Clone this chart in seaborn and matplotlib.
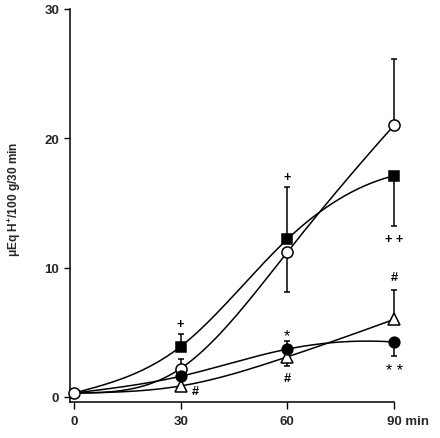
import numpy as np
import pandas as pd
import matplotlib
matplotlib.use("Agg")
import matplotlib.pyplot as plt
import matplotlib.transforms as mtransforms
import seaborn as sns

# ---- data ----
time = [0, 30, 60, 90]
open_circle = [0.3, 2.2, 11.2, 21.0]
open_circle_up = [0, 0.7, 0, 5.1]
open_circle_dn = [0, 0, 3.1, 0]
square = [0.3, 3.9, 12.2, 17.1]
square_up = [0, 1.0, 4.0, 0]
square_dn = [0, 0, 0, 3.9]
filled_circle = [0.3, 1.6, 3.7, 4.25]
filled_circle_up = [0, 0, 0.65, 0]
filled_circle_dn = [0, 0, 0, 1.05]
triangle = [0.3, 0.85, 3.1, 6.0]
triangle_up = [0, 0, 0, 2.3]
triangle_dn = [0, 0, 0.7, 0]
xtick_labels = ["0", "30", "60", "90 min"]
ytick_vals = [0, 10, 20, 30]
ylabel = "μEq H$^{\\mathbf{+}}$/100 g/30 min"
# (text, x, y-baseline, bold)
annotations = [("+", 30, 5.38, True), ("#", 34.2, 0.2, True), ("+", 60, 16.75, True),
               ("#", 60, 1.21, True), ("+ +", 90, 11.96, True), ("#", 90, 9.02, True),
               ("*", 60, 4.41, False), ("* *", 90, 1.7, False)]


def spline_curve(x, y, n=200):
    """Cubic spline: natural at the left end, parabolic run-out at the right end."""
    x = np.asarray(x, float); y = np.asarray(y, float)
    k = len(x); h = np.diff(x)
    A = np.zeros((k, k)); b = np.zeros(k)
    A[0, 0] = 1
    A[-1, -1] = 1; A[-1, -2] = -1
    for i in range(1, k - 1):
        A[i, i - 1] = h[i - 1]; A[i, i] = 2 * (h[i - 1] + h[i]); A[i, i + 1] = h[i]
        b[i] = 6 * ((y[i + 1] - y[i]) / h[i] - (y[i] - y[i - 1]) / h[i - 1])
    M = np.linalg.solve(A, b)
    xs = np.linspace(x[0], x[-1], n)
    idx = np.clip(np.searchsorted(x, xs) - 1, 0, k - 2)
    x0, x1 = x[idx], x[idx + 1]; hh = x1 - x0
    ys = (M[idx] * (x1 - xs) ** 3 + M[idx + 1] * (xs - x0) ** 3) / (6 * hh) \
        + (y[idx] / hh - M[idx] * hh / 6) * (x1 - xs) \
        + (y[idx + 1] / hh - M[idx + 1] * hh / 6) * (xs - x0)
    return xs, ys


sns.set_style("ticks")
plt.rcParams['font.family'] = ['Liberation Sans', 'DejaVu Sans']
plt.rcParams['mathtext.fontset'] = 'custom'
plt.rcParams['mathtext.bf'] = 'Liberation Sans:bold'
plt.rcParams['mathtext.rm'] = 'Liberation Sans:bold'

fig = plt.figure(figsize=(4.4, 4.39), dpi=100)
ax = fig.add_axes([70 / 440, 1 - 403 / 439, (394 - 70) / 440, (403 - 10) / 439])

series = [
    (square, square_up, square_dn, "s", "black", 7),
    (open_circle, open_circle_up, open_circle_dn, "o", "white", 8),
    (triangle, triangle_up, triangle_dn, "^", "white", 8.3),
    (filled_circle, filled_circle_up, filled_circle_dn, "o", "black", 7.7),
]

lw = 1.1
for vals, up, dn, m, fc, ms in series:
    xs, ys = spline_curve(time, vals)
    sns.lineplot(x=xs, y=ys, ax=ax, color="black", lw=lw, zorder=2)
    ax.errorbar(time, vals, yerr=[dn, up], fmt="none", ecolor="black",
                elinewidth=1.1, capsize=2.3, capthick=1.1, zorder=3, clip_on=False)

for vals, up, dn, m, fc, ms in series:
    df = pd.DataFrame({"t": time[1:], "v": vals[1:]})
    ax.plot(df["t"], df["v"], linestyle="none", marker=m, markersize=ms,
            markerfacecolor=fc, markeredgecolor="black", markeredgewidth=1.1,
            zorder=4, clip_on=False)
# open circle at origin on top
ax.plot([time[0]], [open_circle[0]], linestyle="none", marker="o", markersize=8,
        markerfacecolor="white", markeredgecolor="black", markeredgewidth=1.1,
        zorder=5, clip_on=False)

for txt, x, y, bold in annotations:
    ax.text(x, y, txt, ha="center", va="baseline",
            fontsize=9.2 if bold else 11.5,
            fontweight="bold" if bold else "normal", color="black")

ax.set_xlim(-1.12, 90)
ax.set_ylim(-0.39, 30)
ax.set_xticks(time)
ax.set_xticklabels(xtick_labels, fontsize=9.5, fontweight="bold")
ax.set_yticks(ytick_vals)
ax.set_yticklabels([str(v) for v in ytick_vals], fontsize=9.5, fontweight="bold")
ax.tick_params(axis="y", direction="out", length=4.3, width=1.0, color="black", pad=3.5)
ax.tick_params(axis="x", direction="out", length=5, width=1.0, color="black", pad=4.5)
for lab in ax.get_xticklabels():
    if lab.get_text() == "90 min":
        lab.set_horizontalalignment("left")
        lab.set_transform(lab.get_transform() +
                          mtransforms.ScaledTranslation(-7.3 / 100, 0, fig.dpi_scale_trans))
sns.despine(ax=ax)
for s in ("left", "bottom"):
    ax.spines[s].set_linewidth(1.1)
    ax.spines[s].set_color("black")
ax.set_xlabel("")
ax.set_ylabel(ylabel, fontsize=8.6, fontweight="bold")
ax.yaxis.set_label_coords(-0.145, 0.519)
ax.grid(False)

fig.savefig("out.png", dpi=100)
